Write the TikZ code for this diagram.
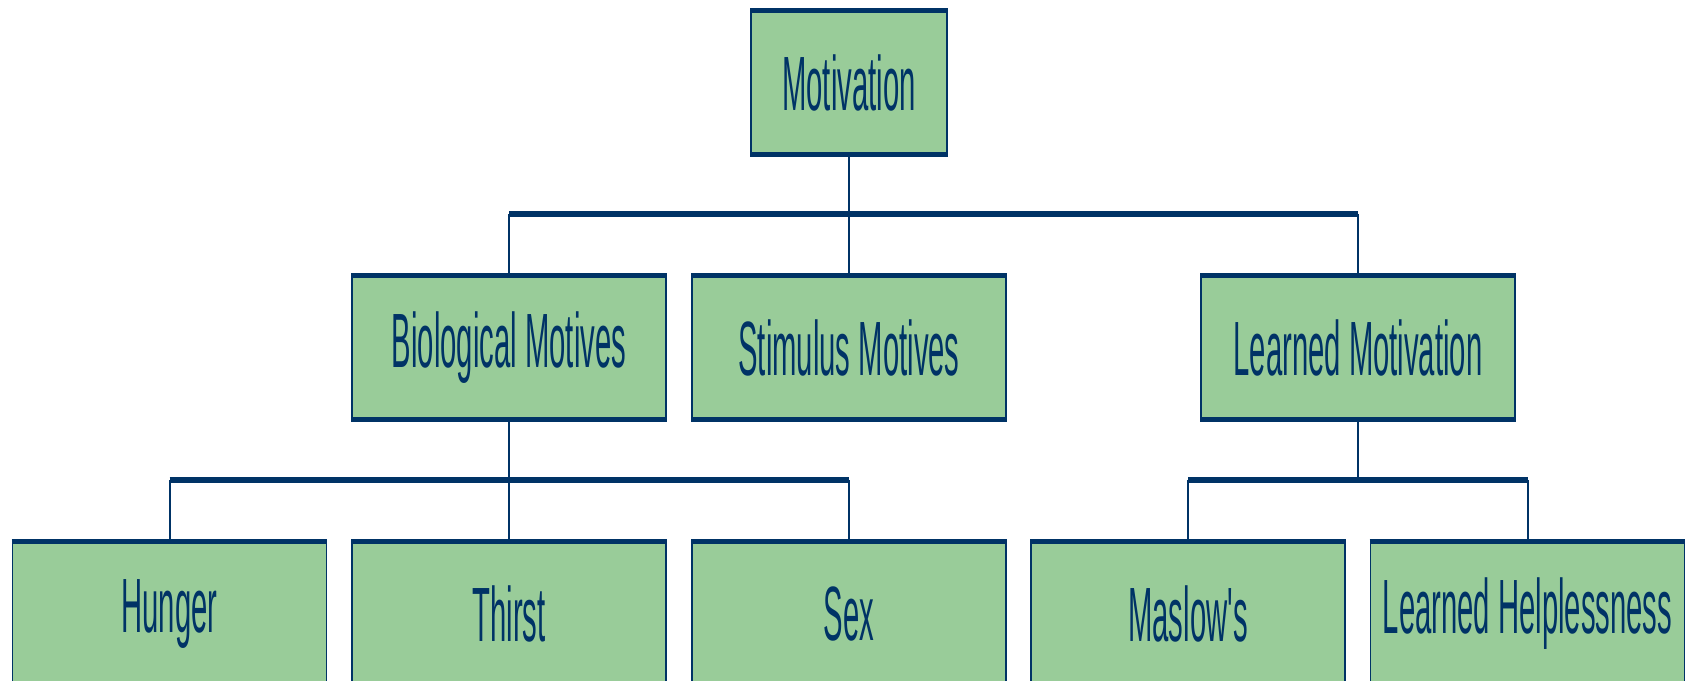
\documentclass[tikz,border=0pt]{standalone}
\usepackage{fontspec}
\setmainfont[FakeStretch=0.38, Ligatures=TeXOff]{Liberation Sans}
\definecolor{navy}{HTML}{003366}
\definecolor{boxgreen}{HTML}{99CC99}
\tikzset{
  topic/.style={draw=navy, line width=0.8pt, fill=boxgreen, text=navy,
    minimum width=157pt, minimum height=71.5pt, inner sep=0pt,
    font=\fontsize{38.5}{40}\selectfont,
    append after command={
      (\tikzlastnode.north west) edge[rule] (\tikzlastnode.north east)
      (\tikzlastnode.south west) edge[rule] (\tikzlastnode.south east)}},
  rule/.style={draw=navy, line width=2.6pt},
  stem/.style={draw=navy, line width=1pt},
  bar/.style={draw=navy, line width=2.6pt}
}
\begin{document}
\begin{tikzpicture}[x=0.5pt, y=-0.5pt]
      \useasboundingbox (0,0) rectangle (1689,680);
      \clip (0,0) rectangle (1689,680);
      \node[topic, minimum width=98pt] (mot) at (849,82.5) {Motivation};
      \node[topic] (bio) at (509,347.5) {Biological Motives};
      \node[topic] (stim) at (849,347.5) {Stimulus Motives};
      \node[topic] (learn) at (1358,347.5) {Learned Motivation};
      \node[topic] (hunger) at (169.5,613.5) {Hunger};
      \node[topic] (thirst) at (509,613.5) {Thirst};
      \node[topic] (sex) at (849,613.5) {Sex};
      \node[topic] (maslow) at (1188,613.5) {Maslow's};
      \node[topic] (helpless) at (1527.5,613.5) {Learned Helplessness};
      \coordinate (topbar) at (849,214);
      \coordinate (bioBar) at (509,480);
      \coordinate (learnBar) at (1358,480);
      \begin{scope}[stem]
        \draw (mot) -- (stim);
        \draw (bio.north) -- (bio.north |- topbar);
        \draw (learn.north) -- (learn.north |- topbar);
        \draw (bio) -- (thirst);
        \draw (hunger.north) -- (hunger.north |- bioBar);
        \draw (sex.north) -- (sex.north |- bioBar);
        \draw (learn.south) -- (learnBar);
        \draw (maslow.north) -- (maslow.north |- learnBar);
        \draw (helpless.north) -- (helpless.north |- learnBar);
      \end{scope}
      \begin{scope}[bar]
        \draw (bio.north |- topbar) -- (learn.north |- topbar);
        \draw (hunger.north |- bioBar) -- (sex.north |- bioBar);
        \draw (maslow.north |- learnBar) -- (helpless.north |- learnBar);
      \end{scope}
    \end{tikzpicture}
\end{document}
